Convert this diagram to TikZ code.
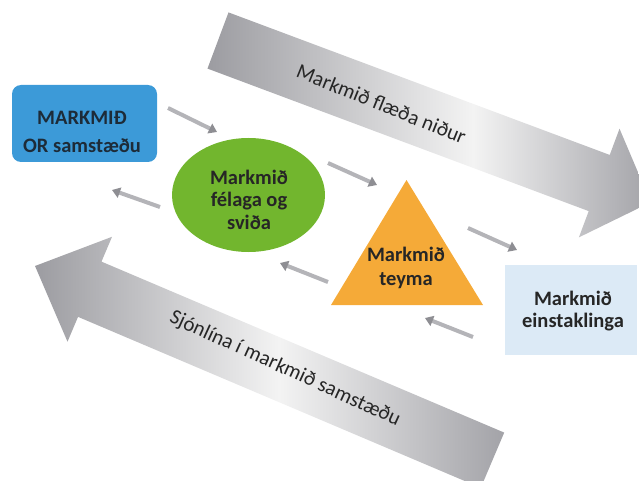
\documentclass[tikz,border=0pt]{standalone}
\usepackage{fontspec}
\setmainfont{Carlito}
\usetikzlibrary{shapes.geometric,arrows.meta}
\definecolor{orgblue}{HTML}{3C9AD8}
\definecolor{clubgreen}{HTML}{72B62E}
\definecolor{teamorange}{HTML}{F5AA38}
\definecolor{indblue}{HTML}{DCEAF6}
\definecolor{txtdark}{HTML}{262626}
\definecolor{txtblue}{HTML}{1D2B38}
\definecolor{agrayA}{HTML}{9C9CA1}
\definecolor{agrayB}{HTML}{A3A3A8}
\definecolor{alight}{HTML}{F3F3F3}
\definecolor{sgray}{HTML}{B4B4B8}
\definecolor{sgrayd}{HTML}{8E8E93}
\pgfdeclarehorizontalshading{topshade}{100bp}{color(0bp)=(agrayA); color(25bp)=(agrayA); color(55bp)=(alight); color(75bp)=(agrayB); color(100bp)=(agrayB)}
\pgfdeclarehorizontalshading{botshade}{100bp}{color(0bp)=(agrayA); color(25bp)=(agrayA); color(51bp)=(alight); color(75bp)=(agrayB); color(100bp)=(agrayB)}
\begin{document}
\begin{tikzpicture}[x=1pt,y=-1pt,
  lbl/.style={anchor=base, inner sep=0pt, text=txtdark, font=\bfseries\fontsize{20.5}{#1}\selectfont},
  arrowtext/.style={inner sep=0pt, text=txtdark, font=\fontsize{21}{25}\selectfont},
  sarrow/.style={draw=sgray, line width=4pt, -{Triangle[length=8pt,width=10.5pt,fill=sgrayd,color=sgrayd]}}
]
\useasboundingbox (0,0) rectangle (639,481);
\clip (0,0) rectangle (639,481);

% big arrow: goals flow down
\begin{scope}[shift={(218,40.5)}, rotate=-20.5]
  \path[shading=topshade] (0,-30) -- (407,-30) -- (407,-58) -- (462,0) -- (407,58) -- (407,30) -- (0,30) -- cycle;
\end{scope}
\node[arrowtext, rotate=-22] (flowdown) at (381.5,104) {Markmið flæða niður};

% big arrow: line of sight
\begin{scope}[shift={(35,266)}, rotate=-23]
  \path[shading=botshade] (0,0) -- (59.5,-57) -- (59.5,-30) -- (497,-30) -- (497,30) -- (59.5,30) -- (59.5,57) -- cycle;
\end{scope}
\node[arrowtext, rotate=-24.5] (sightline) at (285,369) {Sjónlína í markmið samstæðu};

% shapes
\node[fill=orgblue, rounded corners=9pt, minimum width=145pt, minimum height=77pt, inner sep=0pt] (org) at (84.5,123.5) {};
\node[ellipse, fill=clubgreen, minimum width=153pt, minimum height=114pt, inner sep=0pt] (club) at (248.5,195) {};
\coordinate (tapex) at (406.5,180);
\coordinate (tleft) at (331,305);
\coordinate (tright) at (483,305);
\fill[teamorange] (tapex) -- (tleft) -- (tright) -- cycle;
\node[fill=indblue, minimum width=132pt, minimum height=90pt, inner sep=0pt] (ind) at (571,310) {};

% texts
\node[lbl=27.7, text=txtblue] (orgtext) at (82,125) {\begin{tabular}[t]{@{}c@{}}MARKMIÐ\\OR samstæðu\end{tabular}};
\node[lbl=22.5] (clubtext) at (249,184.3) {\begin{tabular}[t]{@{}c@{}}Markmið\\félaga og\\sviða\end{tabular}};
\node[lbl=24] (teamtext) at (406,261) {\begin{tabular}[t]{@{}c@{}}Markmið\\teyma\end{tabular}};
\node[lbl=22.7] (indtext) at (573,305) {\begin{tabular}[t]{@{}c@{}}Markmið\\einstaklinga\end{tabular}};

% small arrows
\coordinate (a1) at (168,108); \coordinate (a2) at (217,132);
\coordinate (b1) at (160,207); \coordinate (b2) at (112,190);
\coordinate (c1) at (328,163); \coordinate (c2) at (377,185);
\coordinate (d1) at (328,282); \coordinate (d2) at (280,263);
\coordinate (e1) at (468,228); \coordinate (e2) at (517,250);
\coordinate (f1) at (473,337); \coordinate (f2) at (425,318);
\draw[sarrow] (a1) -- (a2);
\draw[sarrow] (b1) -- (b2);
\draw[sarrow] (c1) -- (c2);
\draw[sarrow] (d1) -- (d2);
\draw[sarrow] (e1) -- (e2);
\draw[sarrow] (f1) -- (f2);
\end{tikzpicture}
\end{document}
